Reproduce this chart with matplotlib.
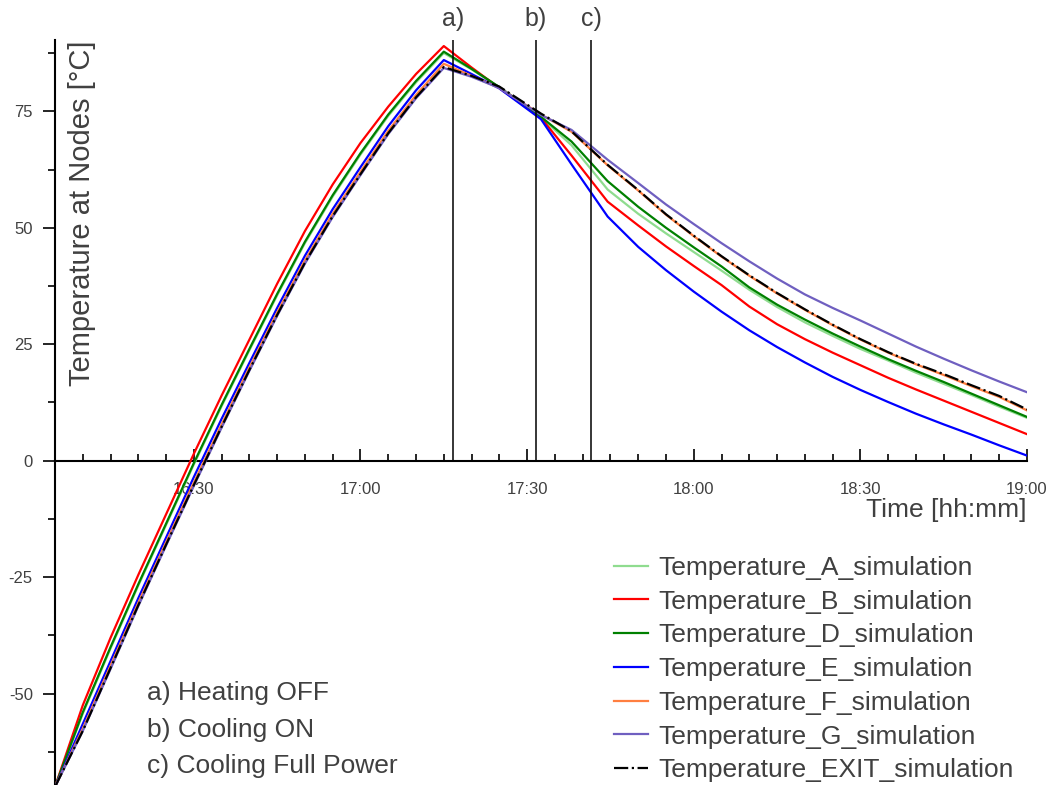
import matplotlib.pyplot as plt
from matplotlib.ticker import MultipleLocator, FuncFormatter

plt.rcParams["font.family"] = ["Liberation Sans", "DejaVu Sans"]
plt.rcParams["axes.unicode_minus"] = False

# time in minutes after 16:00
minutes = [5, 10, 15, 20, 25, 30, 35, 40, 45, 50, 55, 60, 65, 70, 75,
           80, 85, 92.5, 98, 104.5, 110, 115, 120, 125, 130, 135, 140,
           145, 150, 155, 160, 165, 170, 175, 180]

temp_a = [-70, -54.3, -40.3, -26.8, -13.8, -0.8, 11.7, 23.7, 35.5, 46.7, 56.7, 65.7, 74.0, 81.2, 87.5,
          84.0, 80.1, 73.7, 67.7, 58.2, 53.0, 48.8, 44.8, 40.8, 36.7, 33.0, 29.7,
          26.8, 24.0, 21.5, 18.9, 16.5, 14.1, 11.6, 9.2]
temp_b = [-70, -52.5, -38, -24.5, -11.5, 1.5, 14, 26, 38, 49.3, 59.3, 68.2, 76, 83, 89,
          84.4, 80.0, 73.6, 65.5, 55.6, 50.5, 46.0, 41.8, 37.7, 33.1, 29.3, 26.1,
          23.2, 20.5, 17.8, 15.3, 12.9, 10.5, 8.1, 5.7]
temp_d = [-70, -54, -40, -26.5, -13.5, -0.5, 12, 24, 35.8, 47, 57, 66, 74.3, 81.5, 87.8,
          84.1, 80.2, 73.8, 68.5, 60, 54.5, 50.0, 45.8, 41.7, 37.2, 33.5, 30.3,
          27.3, 24.5, 21.8, 19.3, 16.9, 14.4, 11.9, 9.4]
temp_e = [-70, -56.5, -43, -29.5, -16.5, -3.5, 9, 21, 32.8, 44, 54, 63, 71.8, 79.5, 86,
          83.0, 79.9, 73.3, 63.6, 52.4, 45.9, 40.9, 36.3, 32.0, 28.0, 24.4, 21.1,
          18, 15.2, 12.6, 10.1, 7.8, 5.6, 3.3, 1.1]
temp_f = [-70, -57.5, -44, -30.5, -17.5, -4.7, 7.8, 20, 31.8, 43, 53, 62, 70.8, 78.5, 85.2,
          82.6, 80.0, 74.3, 70.6, 63.4, 58.0, 52.8, 48.2, 43.8, 39.7, 35.9, 32.4,
          29.1, 26.0, 23.2, 20.7, 18.4, 16.0, 13.7, 10.8]
temp_g = [-70, -58, -44.7, -31.2, -18.2, -5.4, 7.1, 19.3, 31.1, 42.3, 52.3, 61.3, 70.1, 77.8, 84.3,
          82.4, 80.0, 74.2, 71, 64.6, 59.6, 55.0, 50.8, 46.7, 42.8, 39.1, 35.7,
          32.8, 30.1, 27.3, 24.5, 21.9, 19.4, 17, 14.7]
temp_exit = [-70, -58, -44.5, -31, -18, -5.2, 7.3, 19.5, 31.3, 42.5, 52.5, 61.5, 70.3, 78, 84.5,
             82.6, 80.3, 74.5, 70.7, 63.5, 58.1, 52.9, 48.3, 43.9, 39.8, 36.0, 32.5,
             29.2, 26.1, 23.3, 20.8, 18.6, 16.2, 13.9, 11]

event_minutes = [76.6, 91.6, 101.5]
event_labels = ["a)", "b)", "c)"]
event_notes = ["a) Heating OFF", "b) Cooling ON", "c) Cooling Full Power"]

fig = plt.figure(figsize=(10.54, 7.85), dpi=100)
ax = fig.add_axes([55 / 1054, 0, 972 / 1054, 745 / 785])
ax.set_xlim(5, 180)
ax.set_ylim(-69.6, 90.3)

series = [
    ("Temperature_A_simulation", temp_a, "#8fdc8f", "-"),
    ("Temperature_B_simulation", temp_b, "#ff0000", "-"),
    ("Temperature_D_simulation", temp_d, "#008000", "-"),
    ("Temperature_E_simulation", temp_e, "#0000ff", "-"),
    ("Temperature_F_simulation", temp_f, "#ff7f40", "-"),
    ("Temperature_G_simulation", temp_g, "#6f5fc0", "-"),
    ("Temperature_EXIT_simulation", temp_exit, "black", "-."),
]
for name, vals, col, ls in series:
    ax.plot(minutes, vals, color=col, linestyle=ls, linewidth=1.6, label=name, zorder=3)

# event lines
for m, lab in zip(event_minutes, event_labels):
    ax.plot([m, m], [0, 90.3], color="black", linewidth=1.1, zorder=3)
    ax.text(m, 92.3, lab, ha="center", va="bottom", fontsize=18, color="#404040")

# spines
ax.spines["top"].set_visible(False)
ax.spines["right"].set_visible(False)
ax.spines["bottom"].set_position(("data", 0))
ax.spines["bottom"].set_linewidth(1.5)
ax.spines["left"].set_linewidth(1.5)

ax.xaxis.set_minor_locator(MultipleLocator(5))
ax.xaxis.set_major_formatter(FuncFormatter(lambda t, p: f"{16 + int(t) // 60}:{int(t) % 60:02d}"))
ax.set_xticks([30, 60, 90, 120, 150, 180])
ax.yaxis.set_major_locator(MultipleLocator(25))
ax.yaxis.set_minor_locator(MultipleLocator(12.5))

ax.tick_params(axis="x", which="major", direction="in", length=9, width=1.2,
               labelsize=12, labelcolor="#404040", pad=15)
ax.tick_params(axis="x", which="minor", direction="in", length=5, width=1.2)
ax.tick_params(axis="y", which="major", direction="out", length=9, width=1.2,
               labelsize=12, labelcolor="#404040", pad=7)
ax.tick_params(axis="y", which="minor", direction="out", length=5, width=1.2)

ax.text(1.0, 0.369, "Time [hh:mm]", transform=ax.transAxes, ha="right", va="center",
        fontsize=19, color="#404040")
ax.text(0.028, 1.0, "Temperature at Nodes [°C]", transform=ax.transAxes, ha="center", va="top",
        rotation=90, fontsize=21, color="#404040")

for i, note in enumerate(event_notes):
    fig.text(147 / 1054, 1 - (693 + 36.5 * i) / 785, note, ha="left", va="center",
             fontsize=19, color="#404040")

leg = ax.legend(loc="upper left", bbox_to_anchor=(590 / 1054, 1 - 532 / 785),
                bbox_transform=fig.transFigure, frameon=False, fontsize=19,
                handlelength=1.3, handletextpad=0.38, labelspacing=0.37)
for t in leg.get_texts():
    t.set_color("#404040")

fig.savefig("out.png", dpi=100)
